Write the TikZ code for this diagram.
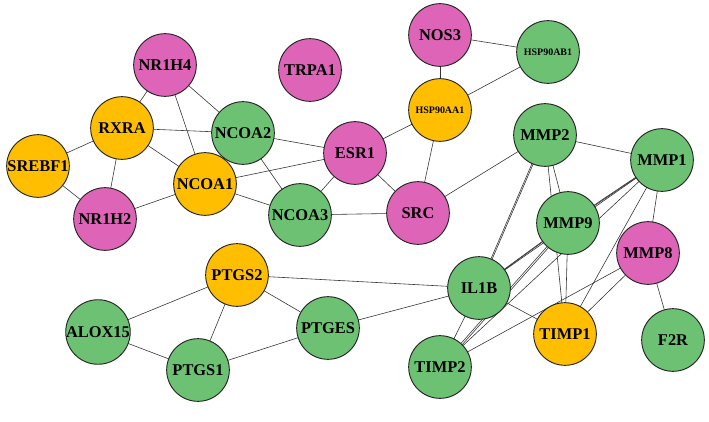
\documentclass[tikz,border=0pt]{standalone}
\usepackage{fontspec}
\setmainfont{Liberation Serif}
\definecolor{pk}{HTML}{DE64B8}
\definecolor{gr}{HTML}{6DC173}
\definecolor{og}{HTML}{FFBF00}
\begin{document}
\begin{tikzpicture}[x=0.03cm,y=-0.03cm,
  nd/.style={circle,draw=black!85,line width=0.8pt,minimum size=1.88cm,inner sep=0pt,font=\bfseries\fontsize{14}{15}\selectfont},
  sm/.style={font=\bfseries\fontsize{8.5}{9}\selectfont},
  P/.style={nd,fill=pk},G/.style={nd,fill=gr},O/.style={nd,fill=og},
  ed/.style={draw=black!80,line width=0.5pt}]
\useasboundingbox (0,0) rectangle (709,421);
\foreach \n/\x/\y in {NR1H4/165/65,TRPA1/310/70,NOS3/440/35,HSP90AB1/548/52,RXRA/122/128,NCOA2/243/133,HSP90AA1/440/110,ESR1/355/153,MMP2/545/135,MMP1/662/160,SREBF1/38/166,NCOA1/205/184,NR1H2/105/219,NCOA3/300/215,SRC/418/213,MMP9/568/223,MMP8/648/253,PTGS2/237/275,IL1B/479/288,TIMP1/565/334,PTGES/328/328,ALOX15/98/332,PTGS1/198/370,TIMP2/440/367,F2R/673/340}
  \coordinate (\n) at (\x,\y);
\foreach \a/\b in {NR1H4/RXRA,NR1H4/NCOA1,NR1H4/NCOA2,RXRA/NCOA2,RXRA/SREBF1,RXRA/NR1H2,RXRA/NCOA1,SREBF1/NR1H2,NR1H2/NCOA1,NCOA1/NCOA2,NCOA1/ESR1,NCOA1/NCOA3,NCOA2/ESR1,NCOA2/NCOA3,ESR1/NCOA3,ESR1/SRC,ESR1/HSP90AA1,NCOA3/SRC,NOS3/HSP90AB1,NOS3/HSP90AA1,HSP90AA1/HSP90AB1,HSP90AA1/SRC,MMP2/MMP1,MMP2/SRC,MMP2/MMP9,MMP2/TIMP1,MMP1/TIMP1,MMP1/MMP8,MMP8/F2R,MMP9/TIMP1,MMP8/TIMP1,MMP8/TIMP2,IL1B/TIMP1,IL1B/TIMP2,IL1B/PTGES,PTGS2/IL1B,PTGS2/ALOX15,PTGS2/PTGS1,PTGS2/PTGES,ALOX15/PTGS1,PTGS1/PTGES,MMP1/TIMP2,MMP9/TIMP2,MMP1/IL1B}
  \draw[ed] (\a) -- (\b);
\foreach \a/\b in {MMP2/IL1B,MMP1/MMP9,MMP9/IL1B}{
  \draw[ed,transform canvas={xshift=1pt,yshift=1pt}] (\a) -- (\b);
  \draw[ed,transform canvas={xshift=-1pt,yshift=-1pt}] (\a) -- (\b);}
\draw[ed,transform canvas={xshift=2pt}] (MMP9) -- (TIMP2);
\node[P] (nNR1H4) at (NR1H4) {NR1H4};
\node[P] (nTRPA1) at (TRPA1) {TRPA1};
\node[P] (nNOS3) at (NOS3) {NOS3};
\node[G,sm] (nHSP90AB1) at (HSP90AB1) {HSP90AB1};
\node[O] (nRXRA) at (RXRA) {RXRA};
\node[G] (nNCOA2) at (NCOA2) {NCOA2};
\node[O,sm] (nHSP90AA1) at (HSP90AA1) {HSP90AA1};
\node[P] (nESR1) at (ESR1) {ESR1};
\node[G] (nMMP2) at (MMP2) {MMP2};
\node[G] (nMMP1) at (MMP1) {MMP1};
\node[O] (nSREBF1) at (SREBF1) {SREBF1};
\node[O] (nNCOA1) at (NCOA1) {NCOA1};
\node[P] (nNR1H2) at (NR1H2) {NR1H2};
\node[G] (nNCOA3) at (NCOA3) {NCOA3};
\node[P] (nSRC) at (SRC) {SRC};
\node[G] (nMMP9) at (MMP9) {MMP9};
\node[P] (nMMP8) at (MMP8) {MMP8};
\node[O] (nPTGS2) at (PTGS2) {PTGS2};
\node[G] (nIL1B) at (IL1B) {IL1B};
\node[O] (nTIMP1) at (TIMP1) {TIMP1};
\node[G] (nPTGES) at (PTGES) {PTGES};
\node[G] (nALOX15) at (ALOX15) {ALOX15};
\node[G] (nPTGS1) at (PTGS1) {PTGS1};
\node[G] (nTIMP2) at (TIMP2) {TIMP2};
\node[G] (nF2R) at (F2R) {F2R};
\end{tikzpicture}
\end{document}
